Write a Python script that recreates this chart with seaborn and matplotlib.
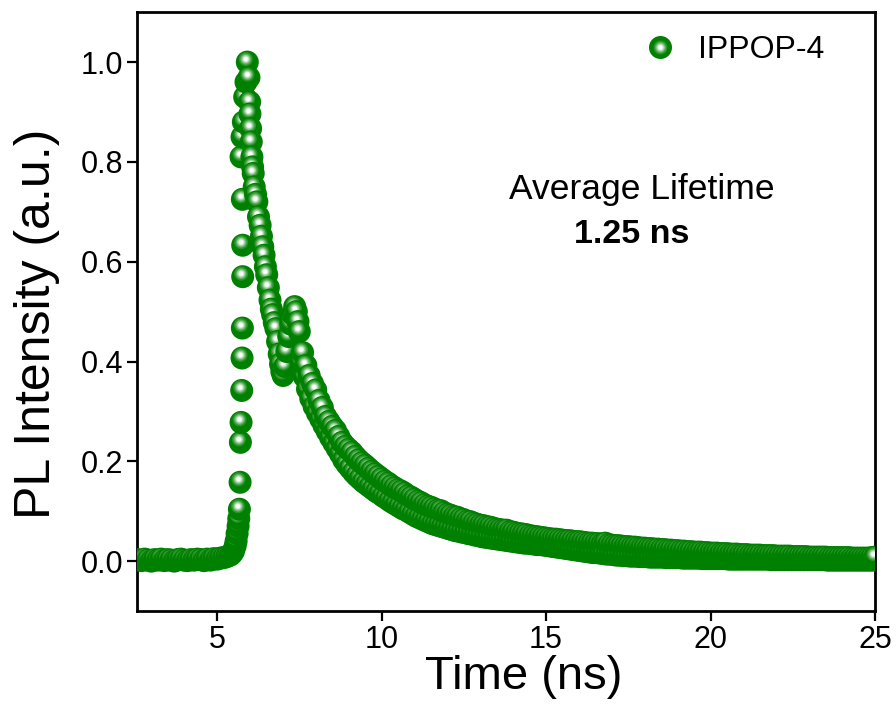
import numpy as np
import pandas as pd
import matplotlib
matplotlib.use('Agg')
import matplotlib.pyplot as plt
import matplotlib.transforms as mtransforms
from matplotlib.lines import Line2D
from matplotlib.legend_handler import HandlerTuple
import seaborn as sns

# PL decay of IPPOP-4
base_t = [2.6, 2.7, 2.8, 2.9, 3.0, 3.1, 3.2, 3.3, 3.4, 3.5, 3.6, 3.7, 3.8, 3.9, 4.0,
          4.1, 4.2, 4.3, 4.4, 4.5, 4.6, 4.7, 4.8, 4.9, 5.0, 5.1, 5.2, 5.3, 5.4]
base_v = [0.003, 0.001, 0.004, 0.002, 0.0, 0.003, 0.002, 0.004, 0.001, 0.003, 0.002, 0.0, 0.003, 0.004, 0.002,
          0.001, 0.003, 0.002, 0.004, 0.003, 0.001, 0.004, 0.002, 0.005, 0.004, 0.006, 0.007, 0.009, 0.012]

rise_t = [5.45, 5.5, 5.55, 5.58, 5.61, 5.64, 5.66, 5.68, 5.7, 5.71, 5.73, 5.75, 5.76, 5.77, 5.78,
          5.78, 5.77, 5.73, 5.76, 5.8, 5.84, 5.88]
rise_v = [0.015, 0.02, 0.03, 0.04, 0.055, 0.07, 0.085, 0.104, 0.158, 0.238, 0.278, 0.342, 0.407, 0.467, 0.57,
          0.633, 0.725, 0.81, 0.85, 0.88, 0.93, 0.96]

peak_t = [5.92, 5.97, 5.99, 6.0, 6.02, 6.04, 6.06, 6.08, 6.1, 6.13, 6.17, 6.21, 6.26, 6.31, 6.35,
          6.39, 6.43, 6.47, 6.51, 6.56, 6.61, 6.65, 6.69, 6.74, 6.79, 6.84, 6.89, 6.93, 6.97, 7.01]
peak_v = [1.0, 0.969, 0.92, 0.896, 0.867, 0.84, 0.81, 0.79, 0.777, 0.75, 0.735, 0.72, 0.69, 0.673, 0.651,
          0.63, 0.613, 0.59, 0.574, 0.548, 0.523, 0.505, 0.494, 0.478, 0.466, 0.44, 0.415, 0.395, 0.38, 0.372]

bump_t = [7.06, 7.12, 7.18, 7.24, 7.3, 7.36, 7.41, 7.46]
bump_v = [0.39, 0.42, 0.45, 0.475, 0.495, 0.51, 0.5, 0.48]

# upper edge of the noisy decay band
upper_t = [7.5, 7.6, 7.7, 7.8, 7.9, 8.0, 8.1, 8.2, 8.3, 8.4,
           8.5, 8.6, 8.7, 8.8, 8.9, 9.0, 9.1, 9.2, 9.3, 9.4,
           9.5, 9.6, 9.7, 9.8, 9.9, 10.0, 10.1, 10.2, 10.3, 10.4,
           10.5, 10.6, 10.7, 10.8, 10.9, 11.0, 11.1, 11.2, 11.3, 11.4,
           11.5, 11.6, 11.7, 11.8, 11.9, 12.0, 12.1, 12.2, 12.3, 12.4,
           12.5, 12.6, 12.7, 12.8, 12.9, 13.0, 13.1, 13.2, 13.3, 13.4,
           13.5, 13.6, 13.7, 13.8, 13.9, 14.0, 14.1, 14.2, 14.3, 14.4,
           14.5, 14.6, 14.7, 14.8, 14.9, 15.0, 15.1, 15.2, 15.3, 15.4,
           15.5, 15.6, 15.7, 15.8, 15.9, 16.0, 16.1, 16.2, 16.3, 16.4,
           16.5, 16.6, 16.7, 16.8, 16.9, 17.0, 17.1, 17.2, 17.3, 17.4,
           17.5, 17.6, 17.7, 17.8, 17.9, 18.0, 18.1, 18.2, 18.3, 18.4,
           18.5, 18.6, 18.7, 18.8, 18.9, 19.0, 19.1, 19.2, 19.3, 19.4,
           19.5, 19.6, 19.7, 19.8, 19.9, 20.0, 20.1, 20.2, 20.3, 20.4,
           20.5, 20.6, 20.7, 20.8, 20.9, 21.0, 21.1, 21.2, 21.3, 21.4,
           21.5, 21.6, 21.7, 21.8, 21.9, 22.0, 22.1, 22.2, 22.3, 22.4,
           22.5, 22.6, 22.7, 22.8, 22.9, 23.0, 23.1, 23.2, 23.3, 23.4,
           23.5, 23.6, 23.7, 23.8, 23.9, 24.0, 24.1, 24.2, 24.3, 24.4,
           24.5, 24.6, 24.7, 24.8, 24.9, 25.0]
upper_v = [0.46, 0.418, 0.392, 0.372, 0.356, 0.343, 0.322, 0.308, 0.29, 0.28,
           0.27, 0.262, 0.25, 0.238, 0.23, 0.224, 0.218, 0.21, 0.203, 0.197,
           0.192, 0.186, 0.18, 0.175, 0.17, 0.165, 0.16, 0.156, 0.151, 0.147,
           0.143, 0.140, 0.136, 0.131, 0.128, 0.124, 0.12, 0.117, 0.113, 0.11,
           0.108, 0.105, 0.102, 0.101, 0.097, 0.094, 0.092, 0.089, 0.088, 0.085,
           0.083, 0.08, 0.079, 0.076, 0.074, 0.072, 0.071, 0.069, 0.068, 0.066,
           0.064, 0.063, 0.062, 0.062, 0.059, 0.058, 0.056, 0.055, 0.054, 0.053,
           0.051, 0.05, 0.049, 0.048, 0.047, 0.046, 0.045, 0.044, 0.044, 0.043,
           0.042, 0.041, 0.041, 0.04, 0.039, 0.039, 0.038, 0.037, 0.036, 0.036,
           0.035, 0.035, 0.034, 0.036, 0.033, 0.032, 0.031, 0.031, 0.03, 0.029,
           0.029, 0.028, 0.028, 0.027, 0.026, 0.026, 0.025, 0.025, 0.024, 0.024,
           0.023, 0.023, 0.022, 0.022, 0.021, 0.021, 0.02, 0.02, 0.019, 0.019,
           0.018, 0.018, 0.018, 0.017, 0.017, 0.016, 0.016, 0.016, 0.015, 0.015,
           0.015, 0.014, 0.014, 0.014, 0.013, 0.013, 0.013, 0.012, 0.012, 0.012,
           0.012, 0.011, 0.011, 0.011, 0.011, 0.01, 0.01, 0.01, 0.01, 0.01,
           0.009, 0.009, 0.009, 0.009, 0.009, 0.008, 0.008, 0.008, 0.008, 0.008,
           0.008, 0.007, 0.007, 0.007, 0.007, 0.007, 0.007, 0.007, 0.006, 0.006,
           0.006, 0.006, 0.006, 0.006, 0.007, 0.008]

# lower edge of the noisy decay band
lower_t = [7.55, 7.65, 7.75, 7.85, 7.95, 8.05, 8.15, 8.25, 8.35, 8.45,
           8.55, 8.65, 8.75, 8.85, 8.95, 9.05, 9.15, 9.25, 9.35, 9.45,
           9.55, 9.65, 9.75, 9.85, 9.95, 10.05, 10.15, 10.25, 10.35, 10.45,
           10.55, 10.65, 10.75, 10.85, 10.95, 11.05, 11.15, 11.25, 11.35, 11.45,
           11.55, 11.65, 11.75, 11.85, 11.95, 12.05, 12.15, 12.25, 12.35, 12.45,
           12.55, 12.65, 12.75, 12.85, 12.95, 13.05, 13.15, 13.25, 13.35, 13.45,
           13.55, 13.65, 13.75, 13.85, 13.95, 14.05, 14.15, 14.25, 14.35, 14.45,
           14.55, 14.65, 14.75, 14.85, 14.95, 15.05, 15.15, 15.25, 15.35, 15.45,
           15.55, 15.65, 15.75, 15.85, 15.95, 16.05, 16.15, 16.25, 16.35, 16.45,
           16.55, 16.65, 16.75, 16.85, 16.95, 17.05, 17.15, 17.25, 17.35, 17.45,
           17.55, 17.65, 17.75, 17.85, 17.95, 18.05, 18.15, 18.25, 18.35, 18.45,
           18.55, 18.65, 18.75, 18.85, 18.95, 19.05, 19.15, 19.25, 19.35, 19.45,
           19.55, 19.65, 19.75, 19.85, 19.95, 20.05, 20.15, 20.25, 20.35, 20.45,
           20.55, 20.65, 20.75, 20.85, 20.95, 21.05, 21.15, 21.25, 21.35, 21.45,
           21.55, 21.65, 21.75, 21.85, 21.95, 22.05, 22.15, 22.25, 22.35, 22.45,
           22.55, 22.65, 22.75, 22.85, 22.95, 23.05, 23.15, 23.25, 23.35, 23.45,
           23.55, 23.65, 23.75, 23.85, 23.95, 24.05, 24.15, 24.25, 24.35, 24.45,
           24.55, 24.65, 24.75, 24.85, 24.95]
lower_v = [0.40, 0.37, 0.345, 0.326, 0.31, 0.297, 0.285, 0.272, 0.26, 0.248,
           0.237, 0.226, 0.215, 0.203, 0.194, 0.186, 0.178, 0.171, 0.165, 0.159,
           0.154, 0.149, 0.144, 0.139, 0.135, 0.13, 0.126, 0.121, 0.117, 0.113,
           0.109, 0.105, 0.102, 0.098, 0.094, 0.09, 0.087, 0.084, 0.081, 0.078,
           0.075, 0.073, 0.071, 0.069, 0.067, 0.065, 0.063, 0.061, 0.06, 0.058,
           0.057, 0.055, 0.054, 0.052, 0.051, 0.049, 0.048, 0.047, 0.046, 0.045,
           0.044, 0.043, 0.042, 0.041, 0.04, 0.039, 0.038, 0.037, 0.036, 0.036,
           0.035, 0.034, 0.033, 0.033, 0.032, 0.031, 0.03, 0.029, 0.028, 0.027,
           0.026, 0.025, 0.024, 0.023, 0.022, 0.021, 0.02, 0.019, 0.018, 0.017,
           0.017, 0.016, 0.015, 0.014, 0.014, 0.013, 0.012, 0.012, 0.011, 0.011,
           0.01, 0.01, 0.01, 0.009, 0.009, 0.009, 0.008, 0.008, 0.008, 0.008,
           0.008, 0.007, 0.007, 0.007, 0.007, 0.007, 0.006, 0.006, 0.006, 0.006,
           0.006, 0.006, 0.005, 0.005, 0.005, 0.005, 0.005, 0.005, 0.005, 0.005,
           0.004, 0.004, 0.004, 0.004, 0.004, 0.004, 0.004, 0.004, 0.004, 0.004,
           0.004, 0.004, 0.004, 0.003, 0.003, 0.003, 0.003, 0.003, 0.003, 0.003,
           0.003, 0.003, 0.003, 0.003, 0.003, 0.003, 0.003, 0.003, 0.003, 0.003,
           0.002, 0.002, 0.002, 0.002, 0.002, 0.002, 0.002, 0.002, 0.002, 0.002,
           0.002, 0.002, 0.002, 0.002, 0.002]

x_ticks = [5, 10, 15, 20, 25]
y_ticks = [0.0, 0.2, 0.4, 0.6, 0.8, 1.0]
label = 'IPPOP-4'

parts = [(base_t, base_v), (rise_t, rise_v), (peak_t, peak_v), (bump_t, bump_v),
         (upper_t, upper_v), (lower_t, lower_v)]
df = pd.concat([pd.DataFrame({'time': t, 'pl': v}) for t, v in parts], ignore_index=True)
df = df.sort_values('time', kind='stable').reset_index(drop=True)

sns.set_style('ticks')
plt.rcParams['font.family'] = ['Liberation Sans', 'DejaVu Sans']
plt.rcParams['text.color'] = 'black'
plt.rcParams['axes.labelcolor'] = 'black'

fig, ax = plt.subplots(figsize=(8.96, 7.18), dpi=100)
fig.subplots_adjust(left=0.153, right=0.9766, bottom=0.149, top=0.983)

green = '#008000'
body_d = 23 * 0.72  # marker diameter in points
# shiny sphere: stacked lighter discs, shifted up-left
shine = [(14, '#2a962a'), (11, '#5eb05e'), (8.5, '#9ccf9c'), (6, '#d8eed8'), (4, '#ffffff')]
shine_tr = mtransforms.offset_copy(ax.transData, fig=fig, x=-1.5, y=3, units='dots')

for i, row in df.iterrows():
    z = 3 + i * 0.001
    sns.scatterplot(x=[row['time']], y=[row['pl']], ax=ax, color=green, s=body_d ** 2,
                    edgecolor='none', linewidth=0, legend=False)
    ax.collections[-1].set_zorder(z)
    for j, (d, c) in enumerate(shine):
        pc = ax.scatter([row['time']], [row['pl']], s=(d * 0.72) ** 2, color=c, edgecolor='none',
                        transform=shine_tr)
        pc.set_zorder(z + (j + 1) * 0.0001)

ax.set_xlim(2.57, 25)
ax.set_ylim(-0.1, 1.1)
ax.set_xticks(x_ticks)
ax.set_yticks(y_ticks)
ax.set_xticklabels([str(v) for v in x_ticks])
ax.set_yticklabels([f'{v:.1f}' for v in y_ticks])
ax.tick_params(axis='both', direction='out', length=7, width=1.6, labelsize=22, pad=3,
               colors='black', right=False, top=False)
for sp in ax.spines.values():
    sp.set_linewidth(2.0)
    sp.set_color('black')

ax.set_xlabel('Time (ns)', fontsize=34)
ax.set_ylabel('PL Intensity (a.u.)', fontsize=36)
ax.xaxis.set_label_coords(0.524, -0.074)
ax.yaxis.set_label_coords(-0.104, 0.479)

ax.text(17.9, 0.745, 'Average Lifetime', fontsize=25.5, ha='center', va='center')
ax.text(17.6, 0.655, '1.25 ns', fontsize=24.5, fontweight='bold', ha='center', va='center')

handle = tuple([Line2D([], [], marker='o', linestyle='none', markersize=body_d,
                       markerfacecolor=green, markeredgewidth=0)] +
               [Line2D([], [], marker='o', linestyle='none', markersize=d * 0.72,
                       markerfacecolor=c, markeredgewidth=0) for d, c in shine])
ax.legend([handle], [label], handler_map={tuple: HandlerTuple(ndivide=1)},
          loc='center left', bbox_to_anchor=(0.687, 0.937), frameon=False,
          fontsize=23, handlelength=1.0, handletextpad=0.7, borderpad=0, borderaxespad=0)

fig.savefig('out.png', dpi=100)
